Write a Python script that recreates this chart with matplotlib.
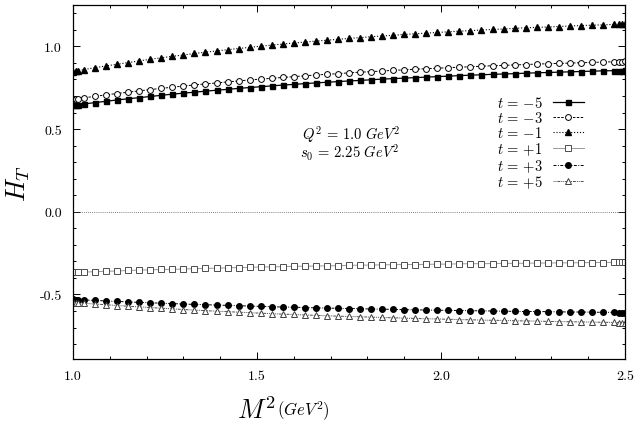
import matplotlib
matplotlib.use('Agg')
import matplotlib.pyplot as plt
from matplotlib.ticker import MultipleLocator

plt.rcParams['mathtext.fontset'] = 'cm'
plt.rcParams['font.family'] = ['cmr10', 'DejaVu Serif']
plt.rcParams['axes.unicode_minus'] = False

# M^2 values (GeV^2)
m2 = [1.000, 1.007, 1.014, 1.03, 1.06, 1.09, 1.12, 1.15, 1.18, 1.21, 1.24, 1.27, 1.30,
      1.33, 1.36, 1.39, 1.42, 1.45, 1.48, 1.51, 1.54, 1.57, 1.60, 1.63, 1.66,
      1.69, 1.72, 1.75, 1.78, 1.81, 1.84, 1.87, 1.90, 1.93, 1.96, 1.99, 2.02,
      2.05, 2.08, 2.11, 2.14, 2.17, 2.20, 2.23, 2.26, 2.29, 2.32, 2.35, 2.38,
      2.41, 2.44, 2.47, 2.484, 2.492, 2.50]

h_m5 = [0.643, 0.645, 0.647, 0.652, 0.660, 0.668, 0.676, 0.683, 0.690, 0.697, 0.704, 0.711,
        0.717, 0.723, 0.729, 0.735, 0.740, 0.746, 0.751, 0.756, 0.761, 0.766,
        0.770, 0.775, 0.779, 0.783, 0.787, 0.791, 0.794, 0.798, 0.802, 0.805,
        0.808, 0.811, 0.814, 0.817, 0.820, 0.823, 0.826, 0.828, 0.831, 0.833,
        0.835, 0.838, 0.840, 0.842, 0.844, 0.846, 0.848, 0.850, 0.852, 0.853,
        0.854, 0.854, 0.855]
h_m3 = [0.680, 0.682, 0.684, 0.689, 0.698, 0.707, 0.715, 0.723, 0.731, 0.739, 0.746, 0.753,
        0.760, 0.767, 0.773, 0.779, 0.785, 0.791, 0.797, 0.802, 0.807, 0.812,
        0.817, 0.822, 0.827, 0.831, 0.835, 0.840, 0.844, 0.847, 0.851, 0.855,
        0.858, 0.862, 0.865, 0.868, 0.871, 0.874, 0.877, 0.880, 0.883, 0.885,
        0.888, 0.890, 0.893, 0.895, 0.897, 0.899, 0.901, 0.903, 0.905, 0.907,
        0.908, 0.908, 0.909]
h_m1 = [0.848, 0.851, 0.854, 0.860, 0.871, 0.882, 0.892, 0.902, 0.912, 0.922, 0.931, 0.940,
        0.948, 0.957, 0.965, 0.972, 0.980, 0.987, 0.994, 1.001, 1.008, 1.014,
        1.020, 1.026, 1.032, 1.037, 1.043, 1.048, 1.053, 1.058, 1.063, 1.067,
        1.072, 1.076, 1.080, 1.084, 1.088, 1.092, 1.095, 1.099, 1.102, 1.105,
        1.109, 1.112, 1.115, 1.117, 1.120, 1.123, 1.126, 1.128, 1.130, 1.133,
        1.134, 1.134, 1.135]
h_p1 = [-0.367, -0.366, -0.366, -0.365, -0.362, -0.360, -0.358, -0.355, -0.353, -0.351, -0.349,
        -0.348, -0.346, -0.344, -0.342, -0.341, -0.339, -0.337, -0.336, -0.334,
        -0.333, -0.332, -0.330, -0.329, -0.328, -0.327, -0.326, -0.324, -0.323,
        -0.322, -0.321, -0.320, -0.319, -0.319, -0.318, -0.317, -0.316, -0.315,
        -0.314, -0.314, -0.313, -0.312, -0.312, -0.311, -0.310, -0.310, -0.309,
        -0.309, -0.308, -0.307, -0.307, -0.306, -0.306, -0.306, -0.306]
h_p3 = [-0.530, -0.531, -0.531, -0.533, -0.536, -0.539, -0.542, -0.545, -0.548, -0.550, -0.553,
        -0.555, -0.558, -0.560, -0.562, -0.564, -0.566, -0.568, -0.570, -0.572,
        -0.574, -0.576, -0.577, -0.579, -0.581, -0.582, -0.584, -0.585, -0.586,
        -0.588, -0.589, -0.590, -0.592, -0.593, -0.594, -0.595, -0.596, -0.597,
        -0.598, -0.599, -0.600, -0.601, -0.602, -0.603, -0.603, -0.604, -0.605,
        -0.606, -0.606, -0.607, -0.608, -0.608, -0.609, -0.609, -0.609]
h_p5 = [-0.548, -0.549, -0.550, -0.553, -0.558, -0.562, -0.567, -0.571, -0.575, -0.579, -0.583,
        -0.587, -0.591, -0.594, -0.598, -0.601, -0.604, -0.607, -0.610, -0.613,
        -0.616, -0.619, -0.621, -0.624, -0.626, -0.629, -0.631, -0.633, -0.635,
        -0.637, -0.639, -0.641, -0.643, -0.645, -0.647, -0.648, -0.650, -0.652,
        -0.653, -0.655, -0.656, -0.657, -0.659, -0.660, -0.661, -0.663, -0.664,
        -0.665, -0.666, -0.667, -0.668, -0.669, -0.670, -0.670, -0.670]

labels = [r'$t\,=\,{-5}$', r'$t\,=\,{-3}$', r'$t\,=\,{-1}$',
          r'$t\,=\,{+1}$', r'$t\,=\,{+3}$', r'$t\,=\,{+5}$']
xticks = [1.0, 1.5, 2.0, 2.5]
yticks = [-0.5, 0.0, 0.5, 1.0]

fig = plt.figure(figsize=(6.42, 4.39), dpi=100)
ax = fig.add_axes([0.1137, 0.18, 0.8598, 0.8063])

ax.axhline(0.0, color='0.35', lw=0.6, ls=(0, (1, 1.5)))

ax.plot(m2, h_m5, '-', color='k', lw=0.9, marker='s', ms=3.6, mfc='k', mec='k', label=labels[0])
ax.plot(m2, h_m3, '--', color='k', lw=0.7, dashes=(2.5, 1.5), marker='o', ms=4.2, mfc='w', mec='k', mew=0.7, label=labels[1])
ax.plot(m2, h_m1, ':', color='k', lw=0.8, marker='^', ms=3.8, mfc='k', mec='k', label=labels[2])
ax.plot(m2, h_p1, '-', color='0.6', lw=0.7, marker='s', ms=4.0, mfc='w', mec='0.3', mew=0.7, label=labels[3])
ax.plot(m2, h_p3, '-.', color='k', lw=0.7, dashes=(3, 1.5, 1, 1.5), marker='o', ms=4.0, mfc='k', mec='k', label=labels[4])
ax.plot(m2, h_p5, '-.', color='0.3', lw=0.7, dashes=(1, 1, 1, 1, 3, 1), marker='^', ms=4.0, mfc='w', mec='0.25', mew=0.7, label=labels[5])

ax.set_xlim(1.0, 2.5)
ax.set_ylim(-0.89, 1.25)
ax.set_xticks(xticks)
ax.set_xticklabels(['%.1f' % v for v in xticks])
ax.set_yticks(yticks)
ax.set_yticklabels(['%.1f' % v for v in yticks])
ax.xaxis.set_minor_locator(MultipleLocator(0.1))
ax.yaxis.set_minor_locator(MultipleLocator(0.1))
ax.tick_params(which='both', direction='in', top=True, right=True, labelsize=10, width=0.7)
ax.tick_params(which='major', length=5, pad=8)
ax.tick_params(which='minor', length=2.5)
for s in ax.spines.values():
    s.set_linewidth(0.9)

ax.text(0.415, 0.638, r'$Q^2\,=\,1.0\ GeV^2$', transform=ax.transAxes, fontsize=10.5, ha='left', va='center')
ax.text(0.411, 0.585, r'$s_0\,=\,2.25\ GeV^2$', transform=ax.transAxes, fontsize=10.5, ha='left', va='center')

leg = ax.legend(loc='upper left', bbox_to_anchor=(0.768, 0.745), frameon=False, markerfirst=False,
                fontsize=10.5, handlelength=2.1, handletextpad=0.7, labelspacing=0.0,
                borderaxespad=0.0, borderpad=0.0, numpoints=1)

fig.text(0.028, 0.583, r'$H_T$', fontsize=19, ha='center', va='center', rotation=90)
fig.text(0.43, 0.064, r'$M^2$', fontsize=19, ha='right', va='center')
fig.text(0.431, 0.064, r'$(GeV^2)$', fontsize=12, ha='left', va='center')

fig.savefig('out.png', dpi=100)
